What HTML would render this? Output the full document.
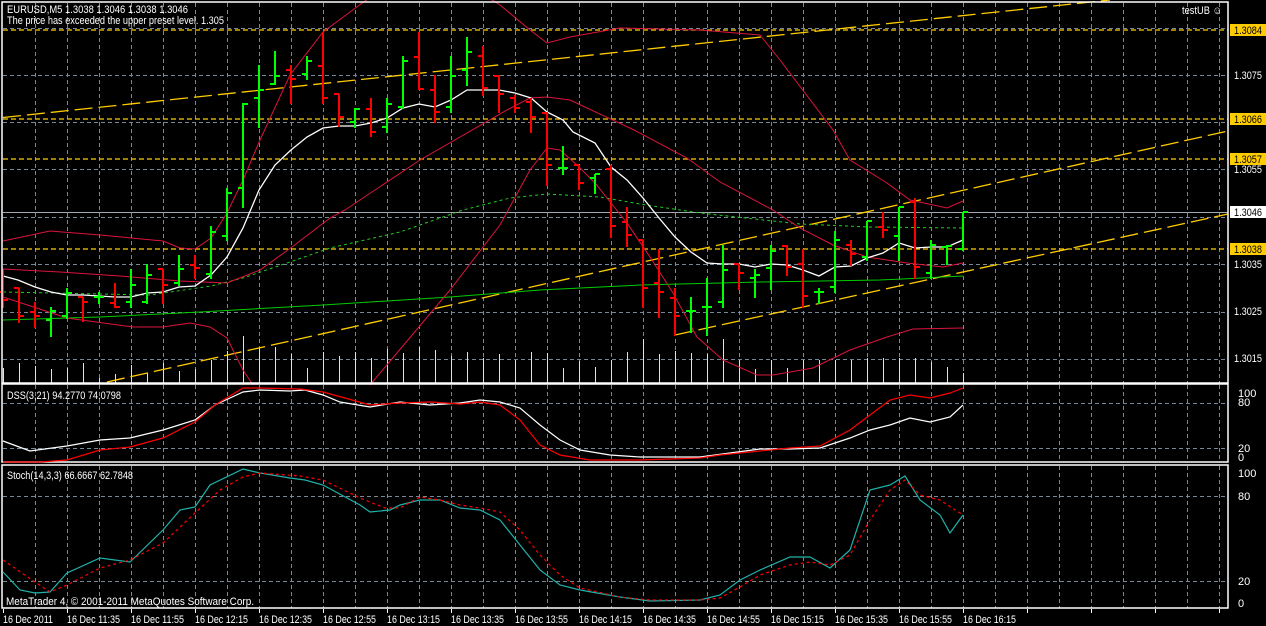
<!DOCTYPE html>
<html><head><meta charset="utf-8"><style>
html,body{margin:0;padding:0;background:#000;}
svg{display:block;font-family:"Liberation Sans",sans-serif;}
</style></head><body>
<svg id="s" width="1266" height="626" viewBox="0 0 1266 626" xmlns="http://www.w3.org/2000/svg">
<rect width="1266" height="626" fill="#000"/>
<g id="grid" stroke="#778899" stroke-dasharray="4,3" stroke-width="1" fill="none"></g>
<g id="vol" stroke="#ffff00" stroke-width="1"></g>
<g stroke="#ffcc00" stroke-dasharray="5,3" stroke-width="1.3">
<line x1="3" y1="30" x2="1228" y2="30"/><line x1="3" y1="119" x2="1228" y2="119"/>
<line x1="3" y1="159" x2="1228" y2="159"/><line x1="3" y1="249" x2="1228" y2="249"/>
</g>
<line x1="3" y1="212.5" x2="1228" y2="212.5" stroke="#a0a8b0" stroke-width="1"/>
<g stroke="#ffcc00" stroke-dasharray="18,6" stroke-width="1.3">
<line x1="3" y1="117.5" x2="1110" y2="0"/>
<line x1="107" y1="382" x2="1228" y2="131"/>
<line x1="675" y1="335" x2="1228" y2="214"/>
</g>
<g fill="none" stroke-width="1">
<polyline stroke="#00cc00" points="3,320 100,317 200,312 323,305 450,297 540,290 640,285 760,282 880,280 963,276"/>
<polyline stroke="#22cc22" stroke-dasharray="3,3" points="3,292 150,295 211,286 243,278 290,262 330,248 400,232 463,210 510,198 547,194 600,197 640,204 700,213 800,224 870,227 963,228"/>
<polyline stroke="#dc143c" points="3,241 50,231 100,235 163,241 180,248 195,249 211,238 227,213 243,180 260,140 290,75 323,32 350,12 380,-10 460,-20 500,5 530,30 547,43 570,37 620,28 700,30 760,35 780,60 833,130 850,160 887,183 910,200 947,208 963,201"/>
<polyline stroke="#dc143c" points="3,269 60,272 120,276 180,281 227,283 260,270 292,247 330,218 345,210 420,160 507,110 530,98 547,97 570,100 634,130 687,158 720,182 773,210 800,228 833,245 867,257 907,263 943,267 963,263"/>
<polyline stroke="#dc143c" points="3,297 67,318 133,327 163,327 190,323 210,327 227,338 243,370 253,385"/>
<polyline stroke="#dc143c" points="370,385 450,290 500,225 530,170 547,148 560,150 577,165 595,183 627,223 650,257 673,293 697,337 723,360 757,375 773,375 813,368 850,350 887,337 913,329 963,328"/>
<polyline stroke="#ffffff" stroke-width="1.3" points="3,276 18,280 35,287 51,292 67,295 83,295 99,296 115,297 131,297 147,293 163,292 179,287 195,286 211,275 227,257 243,228 259,190 275,165 291,150 307,137 323,128 339,126 355,126 371,123 387,118 403,108 419,104 435,107 451,100 467,90 483,90 499,90 515,93 531,98 547,112 563,120 573,132 595,143 611,167 627,180 643,198 659,218 675,237 691,252 707,263 723,264 739,264 755,267 771,264 787,265 803,270 819,276 835,267 851,266 867,258 883,253 899,243 915,248 931,247 947,247 963,240"/>
</g>
<g id="bars" stroke-width="2"></g>
<g fill="none" stroke="#fff" stroke-width="1.5">
<rect x="2" y="2" width="1226" height="381"/>
<rect x="2" y="384" width="1226" height="78"/>
<rect x="2" y="465" width="1226" height="143"/>
</g>
<g fill="none" stroke-width="1.2">
<polyline stroke="#ffffff" points="3,441 30,451 67,446 100,440 130,438 163,430 195,420 215,405 243,392 260,390 290,391 305,390 323,395 340,402 370,407 400,402 430,405 460,403 480,400 500,402 520,408 540,425 560,440 580,450 610,455 640,457 700,457 730,453 760,449 790,449 820,448 850,438 870,430 890,425 910,418 930,422 950,417 963,405"/>
<polyline stroke="#ff0000" points="3,462 40,462 67,460 100,450 130,447 163,438 195,422 215,405 243,388 260,388 300,389 323,392 345,398 370,405 400,403 430,402 460,404 480,402 500,405 520,420 540,445 560,455 590,460 640,460 700,458 720,455 750,452 790,448 820,446 850,430 870,415 890,400 910,395 930,398 950,393 963,388"/>
<polyline stroke="#20b2aa" points="3,572 20,590 35,593 50,592 67,573 100,558 130,562 163,530 180,510 195,507 210,485 243,469 260,473 290,478 305,480 323,485 360,505 370,512 390,510 400,505 420,500 440,500 460,508 480,510 500,520 520,545 540,570 560,585 580,590 620,597 650,601 700,600 720,595 740,580 760,570 790,557 810,557 830,568 850,550 870,490 890,485 905,476 920,500 940,515 950,533 963,515"/>
<polyline stroke="#ff0000" stroke-dasharray="3,3" points="3,560 35,582 50,592 67,585 100,568 130,560 163,543 195,513 220,490 243,477 260,473 300,476 323,480 360,498 385,508 400,508 420,497 440,500 460,505 480,508 500,512 520,530 540,555 560,575 580,588 620,597 650,600 700,600 720,598 740,587 760,575 790,565 810,562 830,565 850,555 870,520 890,490 905,480 920,495 940,500 963,515"/>
</g>
<g fill="#fff" font-size="11" lengthAdjust="spacingAndGlyphs">
<text x="7" y="13" textLength="181" lengthAdjust="spacingAndGlyphs">EURUSD,M5  1.3038 1.3046 1.3038 1.3046</text>
<text x="7" y="24" textLength="217" lengthAdjust="spacingAndGlyphs">The price has exceeded the upper preset level. 1.305</text>
<text x="1182" y="14" textLength="40" lengthAdjust="spacingAndGlyphs">testUB ☺</text>
<text x="7" y="399" textLength="114" lengthAdjust="spacingAndGlyphs">DSS(3,21) 94.2770 74.0798</text>
<text x="7" y="479" textLength="126" lengthAdjust="spacingAndGlyphs">Stoch(14,3,3) 66.6667 62.7848</text>
<text x="6" y="605" textLength="248" lengthAdjust="spacingAndGlyphs">MetaTrader 4, © 2001-2011 MetaQuotes Software Corp.</text>
</g>
<g fill="#fff" font-size="11">
<text x="1234" y="79" textLength="28" lengthAdjust="spacingAndGlyphs">1.3075</text>
<text x="1234" y="173" textLength="28" lengthAdjust="spacingAndGlyphs">1.3055</text>
<text x="1234" y="268" textLength="28" lengthAdjust="spacingAndGlyphs">1.3035</text>
<text x="1234" y="315" textLength="28" lengthAdjust="spacingAndGlyphs">1.3025</text>
<text x="1234" y="362" textLength="28" lengthAdjust="spacingAndGlyphs">1.3015</text>
<text x="1238" y="397">100</text><text x="1238" y="406">80</text>
<text x="1238" y="452">20</text><text x="1238" y="461">0</text>
<text x="1238" y="477">100</text><text x="1238" y="500">80</text>
<text x="1238" y="585">20</text><text x="1238" y="607">0</text>
</g>
<g font-size="11">
<rect x="1230" y="24" width="36" height="12" fill="#ffcc00"/><text x="1234" y="34" textLength="28" lengthAdjust="spacingAndGlyphs">1.3084</text>
<rect x="1230" y="113" width="36" height="12" fill="#ffcc00"/><text x="1234" y="123" textLength="28" lengthAdjust="spacingAndGlyphs">1.3066</text>
<rect x="1230" y="153" width="36" height="12" fill="#ffcc00"/><text x="1234" y="163" textLength="28" lengthAdjust="spacingAndGlyphs">1.3057</text>
<rect x="1230" y="206" width="36" height="12" fill="#fff"/><text x="1234" y="216" textLength="28" lengthAdjust="spacingAndGlyphs">1.3046</text>
<rect x="1230" y="243" width="36" height="12" fill="#ffcc00"/><text x="1234" y="253" textLength="28" lengthAdjust="spacingAndGlyphs">1.3038</text>
</g>
<g fill="#fff" font-size="11">
<text x="3" y="623" textLength="50" lengthAdjust="spacingAndGlyphs">16 Dec 2011</text>
<text x="67" y="623" textLength="53" lengthAdjust="spacingAndGlyphs">16 Dec 11:35</text>
<text x="131" y="623" textLength="53" lengthAdjust="spacingAndGlyphs">16 Dec 11:55</text>
<text x="195" y="623" textLength="53" lengthAdjust="spacingAndGlyphs">16 Dec 12:15</text>
<text x="259" y="623" textLength="53" lengthAdjust="spacingAndGlyphs">16 Dec 12:35</text>
<text x="323" y="623" textLength="53" lengthAdjust="spacingAndGlyphs">16 Dec 12:55</text>
<text x="387" y="623" textLength="53" lengthAdjust="spacingAndGlyphs">16 Dec 13:15</text>
<text x="451" y="623" textLength="53" lengthAdjust="spacingAndGlyphs">16 Dec 13:35</text>
<text x="515" y="623" textLength="53" lengthAdjust="spacingAndGlyphs">16 Dec 13:55</text>
<text x="579" y="623" textLength="53" lengthAdjust="spacingAndGlyphs">16 Dec 14:15</text>
<text x="643" y="623" textLength="53" lengthAdjust="spacingAndGlyphs">16 Dec 14:35</text>
<text x="707" y="623" textLength="53" lengthAdjust="spacingAndGlyphs">16 Dec 14:55</text>
<text x="771" y="623" textLength="53" lengthAdjust="spacingAndGlyphs">16 Dec 15:15</text>
<text x="835" y="623" textLength="53" lengthAdjust="spacingAndGlyphs">16 Dec 15:35</text>
<text x="899" y="623" textLength="53" lengthAdjust="spacingAndGlyphs">16 Dec 15:55</text>
<text x="963" y="623" textLength="53" lengthAdjust="spacingAndGlyphs">16 Dec 16:15</text>
</g>
</svg>
<script>
var NS="http://www.w3.org/2000/svg";
function L(g,x1,y1,x2,y2,c){var e=document.createElementNS(NS,"line");e.setAttribute("x1",x1);e.setAttribute("y1",y1);e.setAttribute("x2",x2);e.setAttribute("y2",y2);if(c)e.setAttribute("stroke",c);g.appendChild(e);}
var g=document.getElementById("grid");
for(var x=35.5;x<1228;x+=32){L(g,x,3,x,383);L(g,x,385,x,462);L(g,x,466,x,608);}
[28,75,122,169,217,264,312,359,403,448,496,581].forEach(function(y){L(g,3,y+0.5,1228,y+0.5);});
for(var x=3.5;x<1228;x+=64){L(g,x,609,x,613,"#fff");}
var vols=[368,363,366,369,368,363,378,374,365,373,363,371,369,360,351,336,348,347,354,368,352,356,352,358,349,353,347,350,356,352,358,354,360,352,353,368,361,367,360,352,339,354,351,353,354,339,360,369,360,368,360,360,360,360,358,358,358,358,362,367,373];
var vg=document.getElementById("vol");
vols.forEach(function(v,i){var x=3.5+16*i;L(vg,x,v,x,383);});
var B=[["r",269,307,292,300],["r",288,322,288,316],["r",302,327,312,316],["g",307,336,320,311],["g",288,318,316,293],["r",297,321,297,302],["g",292,303,297,297],["r",283,307,303,307],["g",269,307,302,285],["g",264,303,302,275],["r",269,303,269,285],["g",255,285,283,269],["r",255,278,265,268],["g",226,278,274,232],["g",188,240,236,193],["g",103,207,188,104],["g",65,127,98,90],["g",51,84,84,76],["r",65,103,70,79],["g",56,79,74,61],["r",32,103,66,98],["r",94,126,94,117],["g",108,127,122,109],["r",98,136,109,132],["g",98,132,127,104],["g",56,108,107,61],["r",32,89,57,89],["r",75,122,90,112],["g",56,112,107,76],["g",37,85,70,52],["r",46,95,56,88],["r",75,112,76,94],["r",95,112,98,108],["r",98,132,102,117],["r",112,185,113,165],["g",146,174,168,168],["r",165,189,165,183],["g",174,193,178,174],["r",165,237,169,226],["r",207,246,222,235],["r",240,307,240,288],["r",249,317,283,292],["r",288,335,298,316],["g",297,332,311,311],["g",278,335,307,307],["g",245,307,302,270],["r",264,289,264,273],["g",269,297,278,275],["g",245,289,268,251],["r",245,275,246,267],["r",249,307,264,296],["g",288,303,292,292],["g",231,292,287,240],["r",240,265,245,254],["g",221,260,257,221],["r",212,237,227,230],["g",207,260,236,207],["r",198,278,202,267],["g",240,278,273,245],["g",245,264,247,246],["g",212,250,249,212]];
var bg=document.getElementById("bars");
B.forEach(function(b,i){var x=3+16*i,c=b[0]=="g"?"#00ff00":"#ff0000";
L(bg,x,b[1],x,b[2]+1,c);L(bg,x-5,b[3],x,b[3],c);L(bg,x,b[4],x+5,b[4],c);});
</script>
</body></html>
